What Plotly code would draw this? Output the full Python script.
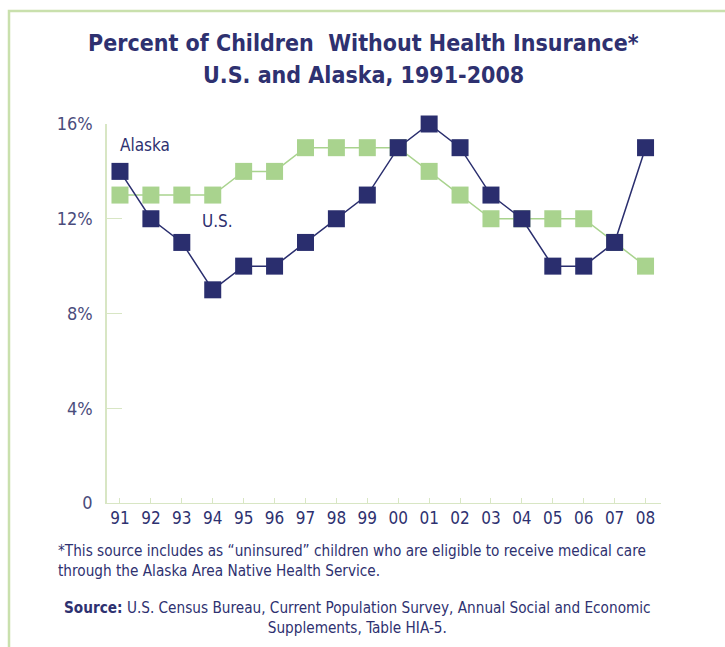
import plotly.graph_objects as go

years = ["91","92","93","94","95","96","97","98","99","00","01","02","03","04","05","06","07","08"]
alaska = [14,12,11,9,10,10,11,12,13,15,16,15,13,12,10,10,11,15]
us = [13,13,13,13,14,14,15,15,15,15,14,13,12,12,12,12,11,10]
ytick_vals = [0,4,8,12,16]
ytick_text = ["0","4%","8%","12%","16%"]

NAVY = "#2a2e6e"
GREEN = "#a9d38e"
TEXT = "#2e3170"
FONT = "DejaVu Sans Condensed, Roboto, sans-serif"

W, H = 725, 647
L, R, T, B = 107, 661, 124, 503

def px(x):
    return (x - L) / (R - L)

def py(y):
    return (B - y) / (B - T)

xs = list(range(len(years)))

fig = go.Figure()
fig.add_trace(go.Scatter(x=xs, y=us, mode="lines+markers", name="U.S.",
                         line=dict(color=GREEN, width=1.5),
                         marker=dict(symbol="square", size=17, color=GREEN),
                         cliponaxis=False, showlegend=False))
fig.add_trace(go.Scatter(x=xs, y=alaska, mode="lines+markers", name="Alaska",
                         line=dict(color=NAVY, width=1.5),
                         marker=dict(symbol="square", size=17, color=NAVY),
                         cliponaxis=False, showlegend=False))

annotations = [
    dict(x=px(363), y=py(43), text="<b>Percent of Children  Without Health Insurance*</b>",
         font=dict(size=23, color=TEXT, family=FONT)),
    dict(x=px(363), y=py(75), text="<b>U.S. and Alaska, 1991-2008</b>",
         font=dict(size=23, color=TEXT, family=FONT)),
    dict(x=px(145), y=py(145), text="Alaska", font=dict(size=17, color=TEXT, family=FONT)),
    dict(x=px(217), y=py(221), text="U.S.", font=dict(size=17, color=TEXT, family=FONT)),
    dict(x=px(56), y=py(561), xanchor="left", align="left",
         text="*This source includes as \u201cuninsured\u201d children who are eligible to receive medical care<br>through the Alaska Area Native Health Service.",
         font=dict(size=15.2, color=TEXT, family=FONT)),
    dict(x=px(357), y=py(618), align="center",
         text="<b>Source:</b> U.S. Census Bureau, Current Population Survey, Annual Social and Economic<br>Supplements, Table HIA-5.",
         font=dict(size=15.2, color=TEXT, family=FONT)),
]
for a in annotations:
    a.setdefault("xanchor", "center")
    a.update(xref="paper", yref="paper", yanchor="middle", showarrow=False)

fig.update_layout(
    width=W, height=H,
    margin=dict(l=L, r=W - R, t=T, b=H - B),
    paper_bgcolor="white", plot_bgcolor="white",
    annotations=annotations,
    shapes=[dict(type="rect", xref="paper", yref="paper",
                 x0=px(9), x1=px(740), y0=py(670), y1=py(11),
                 line=dict(color="#c9e0ad", width=2.5), layer="below")],
    xaxis=dict(range=[-0.42, 17.5], tickmode="array", tickvals=xs, ticktext=years,
               showgrid=False, zeroline=False, showline=True, linecolor="#d8e6c4", linewidth=1,
               ticks="inside", tickson="boundaries", ticklen=5, tickcolor="#d8e6c4",
               tickfont=dict(size=17, color=TEXT, family=FONT)),
    yaxis=dict(range=[0, 16], tickmode="array", tickvals=ytick_vals, ticktext=ytick_text,
               showgrid=False, zeroline=False, showline=True, linecolor="#d8e6c4", linewidth=1.5,
               ticks="inside", ticklen=15, tickcolor="#d8e6c4", ticklabelstandoff=9,
               tickfont=dict(size=18, color="#4a4c7c", family=FONT)),
)

fig.write_html("out.html")
